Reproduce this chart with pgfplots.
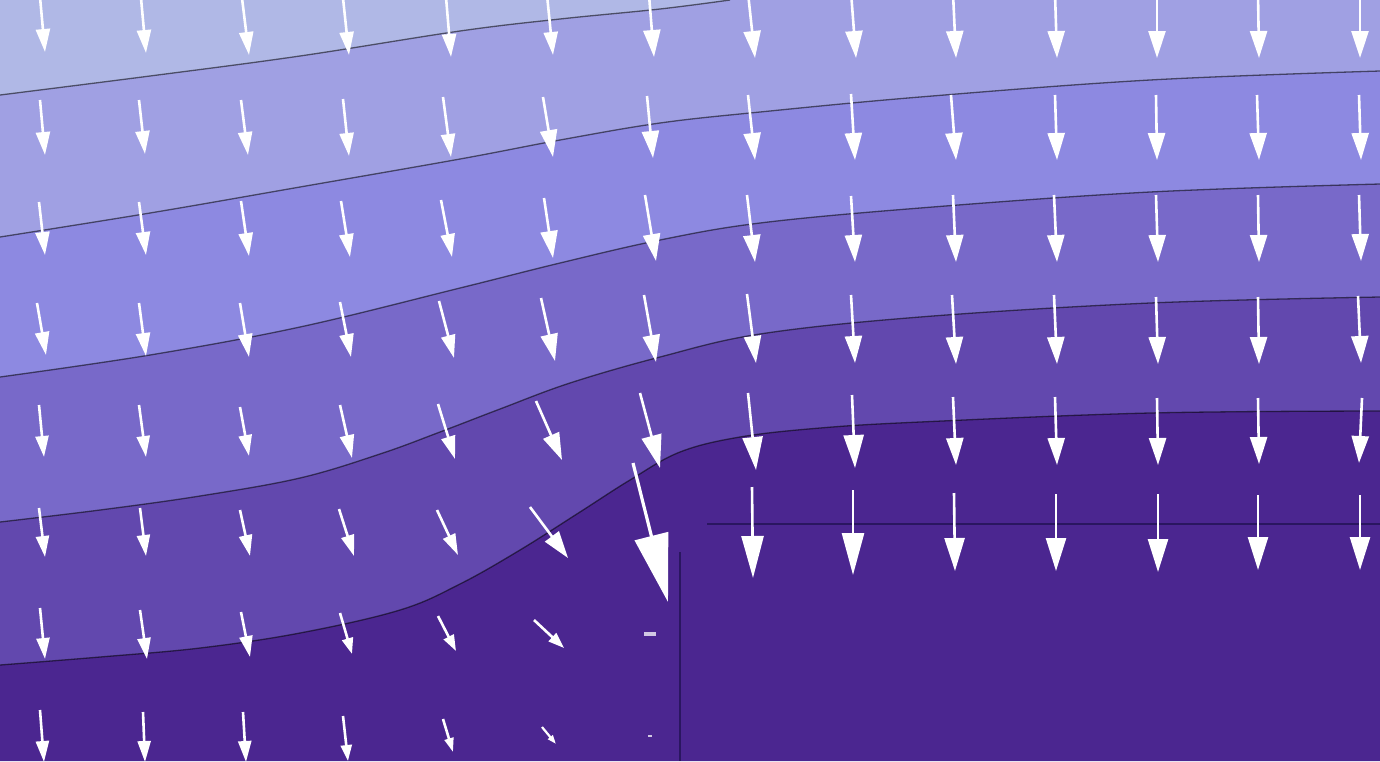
\documentclass[border=0pt]{standalone}
\usepackage{pgfplots}
\pgfplotsset{compat=1.18}
\usepackage{pgfplotstable}
\usetikzlibrary{arrows.meta}
\definecolor{bandA}{HTML}{B0B8E6}
\definecolor{bandB}{HTML}{A0A0E3}
\definecolor{bandC}{HTML}{8D89E1}
\definecolor{bandD}{HTML}{7869C9}
\definecolor{bandE}{HTML}{6248AE}
\definecolor{bandF}{HTML}{4B2690}
\definecolor{stepc}{HTML}{2A1660}

% arrows: tail x, tail y (pixels, y downwards), u, v
\pgfplotstableread{
x y u v
39 405 5 52
139 405 7 52
240 407 9 49
39 508 6 49
140 508 6 48
240 510 10 46
339 509 15 47
437 510 21 45
40 608 5 51
140 610 7 49
241 612 9 45
40 710 4 52
143 712 2 50
243 712 3 50
}\tA
\pgfplotstableread{
x y u v
40 -3 5 55
141 -2 5 55
242 -2 7 57
343 -2 6 57
446 -3 5 60
547 -5 6 60
40 100 5 55
139 100 6 54
241 100 7 55
343 99 6 57
443 97 8 60
39 202 6 53
139 202 7 53
241 201 8 55
341 201 9 56
441 200 11 57
37 303 9 52
139 303 7 53
240 303 9 54
340 302 11 55
439 301 15 57
340 405 12 53
438 404 17 55
}\tB
\pgfplotstableread{
x y u v
649 -5 5 62
748 -7 7 65
851 -8 5 66
953 -7 3 65
1055 -7 2 65
1157 -7 0 65
1258 -7 1 65
1360 -7 0 65
543 97 10 60
647 96 6 62
748 95 7 65
851 94 4 66
951 95 5 65
1055 95 2 65
1156 95 1 65
1257 95 2 65
1359 95 2 65
544 198 9 60
645 195 11 66
747 195 8 67
851 196 4 66
953 195 3 67
1054 195 3 67
1156 195 2 67
1258 195 1 67
1359 195 2 66
541 298 14 63
644 295 12 67
747 294 9 69
851 295 4 68
952 295 4 69
1054 295 3 69
1156 297 2 67
1258 297 1 67
1358 296 3 67
536 401 26 59
953 397 3 68
1055 397 2 68
1157 398 1 67
1258 398 1 66
1362 398 -3 65
530 507 38 51
}\tC
\pgfplotstableread{
x y u v
640 393 20 75
748 393 8 77
852 395 3 73
954 493 1 78
1056 494 0 77
1158 494 0 78
1258 495 0 75
1360 495 0 75
}\tD
\pgfplotstableread{
x y u v
752 487 1 91
853 490 0 85
}\tE
\pgfplotstableread{
x y u v
633 463 35 139
}\tF
\pgfplotstableread{
x y u v
340 613 12 41
438 616 18 35
534 620 30 28
343 716 5 45
}\tG
\pgfplotstableread{
x y u v
443 719 10 33
}\tH
\pgfplotstableread{
x y u v
542 727 14 17
}\tI

\begin{document}
\begin{tikzpicture}
\begin{axis}[
  scale only axis, width=690pt, height=380.5pt,
  xmin=0, xmax=1380, ymin=0, ymax=761, y dir=reverse,
  hide axis, clip=true,
]
% background (lowest band)
\addplot[fill=bandF, draw=none] coordinates {(0,0) (0,761) (1380,761) (1380,0)} \closedcycle;
% bands, from low to high
\addplot[fill=bandE, draw=none, smooth, tension=0.6] coordinates {
(0,665) (100,657) (200,648) (300,633) (400,610) (460,584) (520,550) (580,512) (630,480) (680,452) (740,437) (820,428) (920,422) (1150,413) (1380,411)} \closedcycle;
\addplot[fill=bandD, draw=none, smooth, tension=0.6] coordinates {
(0,522) (100,510) (200,496) (300,478) (380,454) (440,432) (500,409) (570,383) (660,357) (760,334) (920,317) (1150,303) (1380,297)} \closedcycle;
\addplot[fill=bandC, draw=none, smooth, tension=0.6] coordinates {
(0,377) (150,355) (300,327) (460,288) (560,263) (660,240) (760,223) (920,208) (1150,192) (1380,184)} \closedcycle;
\addplot[fill=bandB, draw=none, smooth, tension=0.6] coordinates {
(0,237) (150,213) (300,187) (460,159) (560,140) (660,123) (760,112) (920,97) (1150,80) (1380,71)} \closedcycle;
\addplot[fill=bandA, draw=none, smooth, tension=0.6] coordinates {
(0,95) (150,76) (300,56) (460,31) (560,19) (660,9) (730,0)} \closedcycle;
% contour lines
\pgfplotsset{cline/.style={draw=black, draw opacity=0.55, line width=0.65pt, smooth, tension=0.6}}
\addplot[cline] coordinates {
(0,665) (100,657) (200,648) (300,633) (400,610) (460,584) (520,550) (580,512) (630,480) (680,452) (740,437) (820,428) (920,422) (1150,413) (1380,411)};
\addplot[cline] coordinates {
(0,522) (100,510) (200,496) (300,478) (380,454) (440,432) (500,409) (570,383) (660,357) (760,334) (920,317) (1150,303) (1380,297)};
\addplot[cline] coordinates {
(0,377) (150,355) (300,327) (460,288) (560,263) (660,240) (760,223) (920,208) (1150,192) (1380,184)};
\addplot[cline] coordinates {
(0,237) (150,213) (300,187) (460,159) (560,140) (660,123) (760,112) (920,97) (1150,80) (1380,71)};
\addplot[cline] coordinates {
(0,95) (150,76) (300,56) (460,31) (560,19) (660,9) (730,0)};
% step outline
\addplot[draw=stepc, line width=0.8pt] coordinates {(707,524) (1380,524)};
\addplot[draw=stepc, line width=0.8pt] coordinates {(680,552) (680,761)};
% arrows
\pgfplotsset{arr/.style={white, line width=1.3pt, quiver={u=\thisrow{u}, v=\thisrow{v}}}}
\addplot[arr, -{Triangle[length=10.5pt, width=6.5pt]}] table[x=x, y=y] {\tA};
\addplot[arr, -{Triangle[length=11.5pt, width=7pt]}] table[x=x, y=y] {\tB};
\addplot[arr, -{Triangle[length=13.5pt, width=8.5pt]}] table[x=x, y=y] {\tC};
\addplot[arr, -{Triangle[length=16.5pt, width=10pt]}] table[x=x, y=y] {\tD};
\addplot[arr, -{Triangle[length=21pt, width=11pt]}] table[x=x, y=y] {\tE};
\addplot[arr, line width=1.6pt, -{Triangle[length=34pt, width=17pt]}] table[x=x, y=y] {\tF};
\addplot[arr, -{Triangle[length=8pt, width=5.5pt]}] table[x=x, y=y] {\tG};
\addplot[arr, -{Triangle[length=7pt, width=4.5pt]}] table[x=x, y=y] {\tH};
\addplot[arr, line width=1.1pt, -{Triangle[length=4.5pt, width=3pt]}] table[x=x, y=y] {\tI};
% near-zero vectors
\addplot[draw=white, draw opacity=0.75, line width=1.8pt] coordinates {(644,634) (656,634)};
\addplot[draw=white, draw opacity=0.75, line width=1.2pt] coordinates {(648,736) (652,736)};
\end{axis}
\end{tikzpicture}
\end{document}
